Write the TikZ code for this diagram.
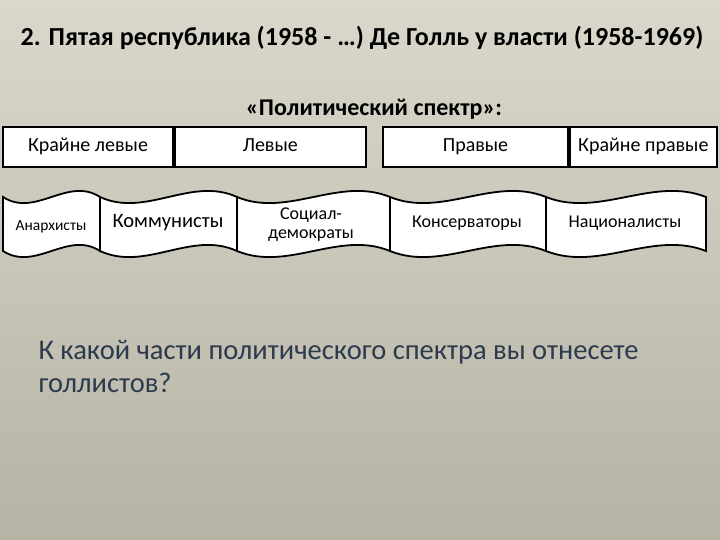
\documentclass[tikz,border=0pt]{standalone}
\usepackage{fontspec}
\setmainfont{Carlito}
\usepackage{tikz}
\usetikzlibrary{positioning}
\definecolor{bgtop}{RGB}{218,216,204}
\definecolor{bgbot}{RGB}{182,179,164}
\definecolor{askcol}{RGB}{44,58,78}

\begin{document}
\begin{tikzpicture}[
		x=1pt, y=-1pt,
		cell/.style = {draw, fill=white, line width=1.8pt, minimum height=40pt, inner sep=0pt,
			text height=13pt, text depth=4pt, font=\fontsize{20}{22}\selectfont},
		tape/.style = {draw, fill=white, line width=1.8pt},
		tapetext/.style = {align=center, font=\fontsize{18}{19}\selectfont}
		]

	\shade[top color=bgtop, bottom color=bgbot] (0,0) rectangle (720,540);
	\useasboundingbox (0,0) rectangle (720,540);

	\node[font=\bfseries\fontsize{26}{28}\selectfont] (title) at (362,38) {2. Пятая республика (1958 - \dots) Де Голль у власти (1958-1969)};
	\node[font=\bfseries\fontsize{24}{26}\selectfont] (spectr) at (374,109) {«Политический спектр»:};

	% top row
	\node[cell, minimum width=170pt] (kleft) at (88,147) {Крайне левые};
	\node[cell, minimum width=191pt, right=0pt of kleft] (left) {Левые};
	\node[cell, minimum width=185pt] (right) at (475.5,147) {Правые};
	\node[cell, minimum width=147pt, right=0pt of right] (kright) {Крайне правые};

	% wave banners
	\foreach \l/\r in {3/100, 100/237, 237/390, 390/546, 546/706}
		\draw[tape] (\l,197) .. controls ({\l+(\r-\l)/3},218) and ({\l+2*(\r-\l)/3},176) .. (\r,197)
			-- (\r,251) .. controls ({\l+2*(\r-\l)/3},230) and ({\l+(\r-\l)/3},272) .. (\l,251) -- cycle;

	\node[tapetext, font=\fontsize{15.5}{17}\selectfont] (anarch) at (51,227) {Анархисты};
	\node[tapetext, font=\fontsize{20.5}{22}\selectfont] (komm) at (168,223) {Коммунисты};
	\node[tapetext] (social) at (311,225) {Социал-\\демократы};
	\node[tapetext] (konserv) at (467,223) {Консерваторы};
	\node[tapetext] (nacion) at (625,223) {Националисты};

	\node[anchor=north west, align=left, text=askcol, font=\fontsize{28.5}{33}\selectfont] (ask) at (35,337) {К какой части политического спектра вы отнесете\\голлистов?};
\end{tikzpicture}
\end{document}
